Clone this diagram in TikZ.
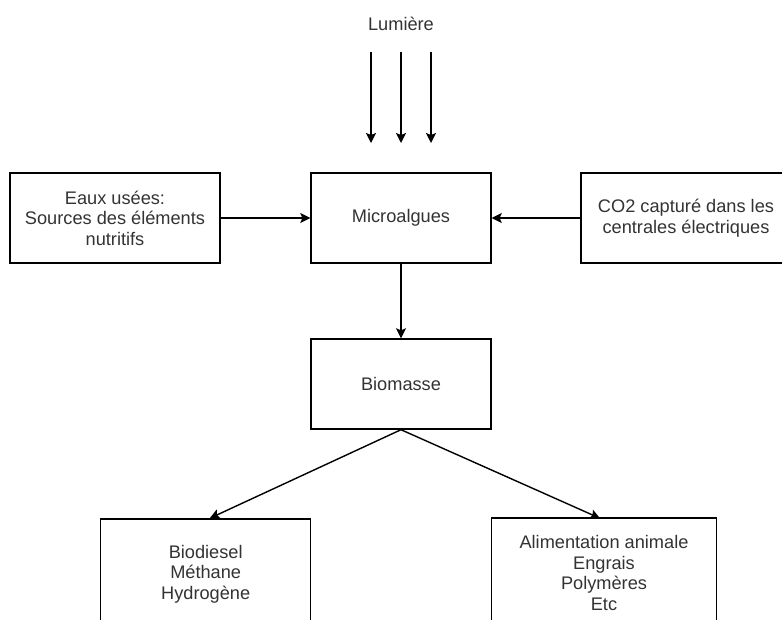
\documentclass[tikz,border=0pt]{standalone}
\usepackage{fontspec}
\setmainfont{Liberation Sans}
\usetikzlibrary{arrows.meta}
\definecolor{txt}{RGB}{51,51,51}
\begin{document}
\begin{tikzpicture}[x=1pt,y=-1pt,
  box/.style={draw=black,line width=1.4pt,rectangle,inner sep=0pt,align=center,
    text=txt,font=\fontsize{18.2}{20.5}\selectfont},
  conn/.style={line width=1.4pt,-{Stealth[length=10pt,width=10pt,inset=2pt]}}]
\useasboundingbox[fill=white] (0,0) rectangle (782,619);
\node[box,minimum width=210pt,minimum height=90pt] (eaux) at (115,218) {Eaux usées:\\Sources des éléments\\nutritifs};
\node[box,minimum width=180pt,minimum height=90pt] (micro) at (401,218) {Microalgues};
\node[box,minimum width=210pt,minimum height=90pt] (co2) at (686,218) {CO2 capturé dans les\\centrales électriques};
\node[box,minimum width=180pt,minimum height=90pt] (bio) at (401,384) {Biomasse};
\node[box,minimum width=210pt,minimum height=110pt] (fuel) at (205.7,574) {Biodiesel\\Méthane\\Hydrogène};
\node[box,minimum width=225pt,minimum height=110pt] (feed) at (604,573) {Alimentation animale\\Engrais\\Polymères\\Etc};
\node[text=txt,font=\fontsize{18.2}{20.5}\selectfont] (lum) at (401,24) {Lumière};
\coordinate (a1) at (371,52); \coordinate (a1e) at (371,143);
\coordinate (a2) at (401,52); \coordinate (a2e) at (401,143);
\coordinate (a3) at (431,52); \coordinate (a3e) at (431,143);
\draw[conn] (a1) -- (a1e);
\draw[conn] (a2) -- (a2e);
\draw[conn] (a3) -- (a3e);
\draw[conn] (eaux.east) -- (micro.west);
\draw[conn] (co2.west) -- (micro.east);
\draw[conn] (micro.south) -- (bio.north);
\draw[conn] (bio.south) -- ([xshift=4pt]fuel.north);
\draw[conn] (bio.south) -- ([xshift=-4pt,yshift=-1pt]feed.north);
\end{tikzpicture}
\end{document}
